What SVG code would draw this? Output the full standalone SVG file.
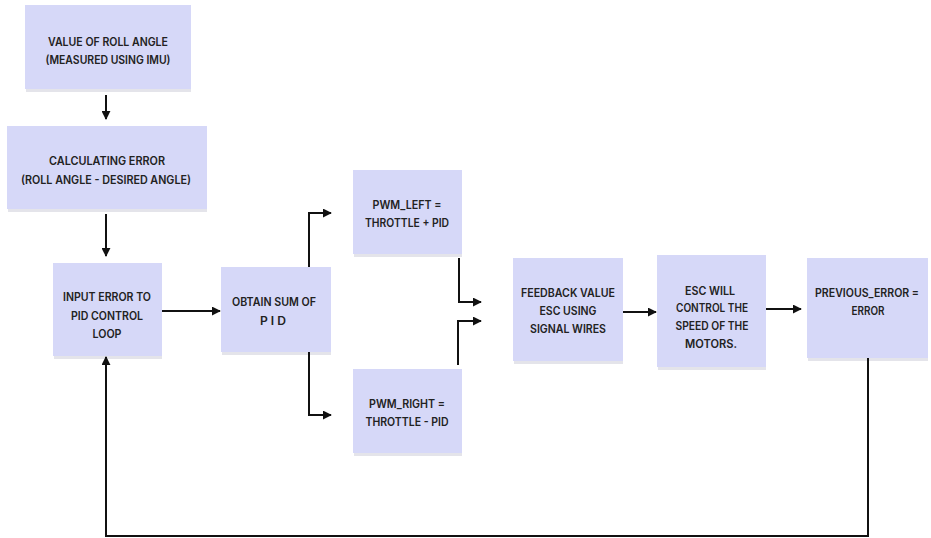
<svg xmlns="http://www.w3.org/2000/svg" width="931" height="538" viewBox="0 0 931 538">
<defs>
<style>
.box{fill:#d6d8f8;}
.sh{fill:#e4e4ea;}
.t{font-family:Inter,"Liberation Sans",sans-serif;font-weight:600;font-size:11.5px;fill:#222;text-anchor:middle;}
.c{fill:none;stroke:#111;stroke-width:2;}
</style>
<marker id="ah" viewBox="0 0 10 10" refX="9" refY="5" markerWidth="4.5" markerHeight="4.5" orient="auto" markerUnits="strokeWidth">
<path d="M0,0 L10,5 L0,10 z" fill="#111"/>
</marker>
</defs>
<rect width="931" height="538" fill="#ffffff"/>
<g id="n1">
<rect class="sh" x="26" y="88" width="165" height="4"/>
<rect class="box" x="25" y="5" width="166" height="84"/>
<text class="t" x="108" y="46" textLength="120" lengthAdjust="spacingAndGlyphs">VALUE OF ROLL ANGLE</text>
<text class="t" x="108" y="64" textLength="125" lengthAdjust="spacingAndGlyphs">(MEASURED USING IMU)</text>
</g>
<g id="n2">
<rect class="sh" x="8" y="208" width="199" height="4"/>
<rect class="box" x="7" y="126" width="200" height="83"/>
<text class="t" x="107" y="165" textLength="116" lengthAdjust="spacingAndGlyphs">CALCULATING ERROR</text>
<text class="t" x="106" y="184" textLength="170" lengthAdjust="spacingAndGlyphs">(ROLL ANGLE - DESIRED ANGLE)</text>
</g>
<g id="n3">
<rect class="sh" x="54" y="355" width="108" height="4"/>
<rect class="box" x="53" y="263" width="109" height="93"/>
<text class="t" x="107" y="301" textLength="88" lengthAdjust="spacingAndGlyphs">INPUT ERROR TO</text>
<text class="t" x="107" y="320" textLength="72" lengthAdjust="spacingAndGlyphs">PID CONTROL</text>
<text class="t" x="107" y="338" textLength="29" lengthAdjust="spacingAndGlyphs">LOOP</text>
</g>
<g id="n4">
<rect class="sh" x="222" y="351" width="109" height="4"/>
<rect class="box" x="221" y="267" width="110" height="85"/>
<text class="t" x="274" y="306" textLength="84" lengthAdjust="spacingAndGlyphs">OBTAIN SUM OF</text>
<text class="t" x="273" y="325" textLength="26" lengthAdjust="spacingAndGlyphs">P I D</text>
</g>
<g id="n5">
<rect class="sh" x="354" y="253" width="108" height="4"/>
<rect class="box" x="353" y="170" width="109" height="84"/>
<text class="t" x="407" y="209" textLength="69" lengthAdjust="spacingAndGlyphs">PWM_LEFT =</text>
<text class="t" x="407" y="227" textLength="84" lengthAdjust="spacingAndGlyphs">THROTTLE + PID</text>
</g>
<g id="n6">
<rect class="sh" x="354" y="452" width="108" height="4"/>
<rect class="box" x="353" y="369" width="109" height="84"/>
<text class="t" x="407" y="408" textLength="76" lengthAdjust="spacingAndGlyphs">PWM_RIGHT =</text>
<text class="t" x="407" y="426" textLength="83" lengthAdjust="spacingAndGlyphs">THROTTLE - PID</text>
</g>
<g id="n7">
<rect class="sh" x="514" y="360" width="109" height="4"/>
<rect class="box" x="513" y="258" width="110" height="103"/>
<text class="t" x="568" y="297" textLength="94" lengthAdjust="spacingAndGlyphs">FEEDBACK VALUE</text>
<text class="t" x="568" y="315" textLength="57" lengthAdjust="spacingAndGlyphs">ESC USING</text>
<text class="t" x="568" y="333" textLength="76" lengthAdjust="spacingAndGlyphs">SIGNAL WIRES</text>
</g>
<g id="n8">
<rect class="sh" x="658" y="366" width="108" height="4"/>
<rect class="box" x="657" y="255" width="109" height="112"/>
<text class="t" x="710" y="295" textLength="50" lengthAdjust="spacingAndGlyphs">ESC WILL</text>
<text class="t" x="712" y="312" textLength="72" lengthAdjust="spacingAndGlyphs">CONTROL THE</text>
<text class="t" x="712" y="330" textLength="73" lengthAdjust="spacingAndGlyphs">SPEED OF THE</text>
<text class="t" x="711" y="348" textLength="52" lengthAdjust="spacingAndGlyphs">MOTORS.</text>
</g>
<g id="n9">
<rect class="sh" x="808" y="357" width="120" height="4"/>
<rect class="box" x="807" y="258" width="121" height="100"/>
<text class="t" x="867" y="297" textLength="104" lengthAdjust="spacingAndGlyphs">PREVIOUS_ERROR =</text>
<text class="t" x="868" y="315" textLength="33" lengthAdjust="spacingAndGlyphs">ERROR</text>
</g>
<g id="connectors">
<path class="c" d="M106,95 V119" marker-end="url(#ah)"/>
<path class="c" d="M106,214 V256" marker-end="url(#ah)"/>
<path class="c" d="M162,311 H220" marker-end="url(#ah)"/>
<path class="c" d="M309,267 V213 H331" marker-end="url(#ah)"/>
<path class="c" d="M309,352 V415 H331" marker-end="url(#ah)"/>
<path class="c" d="M459,258 V302 H481" marker-end="url(#ah)"/>
<path class="c" d="M458,365 V321 H481" marker-end="url(#ah)"/>
<path class="c" d="M623,312 H656" marker-end="url(#ah)"/>
<path class="c" d="M766,309 H801" marker-end="url(#ah)"/>
<path class="c" d="M868,358 V536 H106 V357" marker-end="url(#ah)"/>
</g>
</svg>
